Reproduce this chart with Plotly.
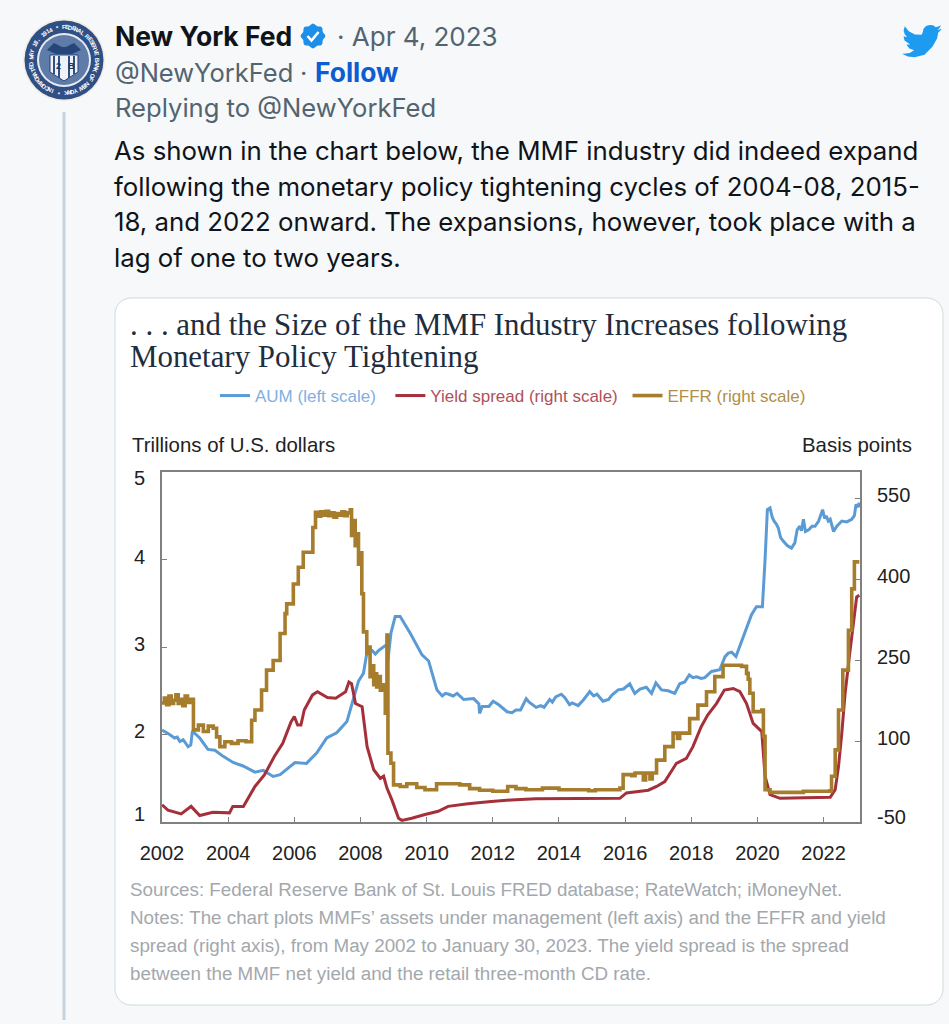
import math
import plotly.graph_objects as go

W, H = 949, 1024

# chart data
aum_years = [2002.0, 2002.1, 2002.23, 2002.38, 2002.46, 2002.54, 2002.64, 2002.79, 2002.87, 2002.92, 2003.03, 2003.14, 2003.39, 2003.6, 2003.85,
             2004.15, 2004.45, 2004.81, 2005.06, 2005.36, 2005.57, 2005.82, 2006.02, 2006.37, 2006.68, 2006.98, 2007.28,
             2007.59, 2007.74, 2007.94, 2008.09, 2008.21, 2008.35, 2008.45, 2008.55, 2008.8, 2008.83, 2008.92, 2009.05, 2009.2, 2009.5, 2009.86,
             2010.06, 2010.31, 2010.47, 2010.57, 2010.67, 2010.8, 2010.92, 2011.12, 2011.42, 2011.58, 2011.6, 2011.68, 2011.88, 2012.01, 2012.18,
             2012.43, 2012.58, 2012.7, 2012.84, 2013.01, 2013.1, 2013.31, 2013.45, 2013.55, 2013.72, 2013.8, 2013.9, 2014.07, 2014.18, 2014.32,
             2014.4, 2014.58, 2014.75, 2014.93, 2015.05, 2015.15, 2015.33, 2015.5, 2015.6, 2015.79, 2015.95,
             2016.14, 2016.29, 2016.45, 2016.64, 2016.8, 2016.93, 2017.1, 2017.3, 2017.5, 2017.65, 2017.8, 2017.94, 2018.05, 2018.16, 2018.3, 2018.41, 2018.61,
             2018.86, 2019.02, 2019.12, 2019.22, 2019.35, 2019.62, 2019.82, 2019.97, 2020.15, 2020.23, 2020.3, 2020.38, 2020.45, 2020.5, 2020.58,
             2020.63, 2020.7, 2020.78, 2020.9, 2021.03, 2021.13, 2021.2, 2021.28, 2021.33, 2021.39, 2021.45, 2021.55, 2021.65, 2021.74, 2021.85,
             2021.97, 2022.03, 2022.08, 2022.14, 2022.2, 2022.3, 2022.4, 2022.55, 2022.7, 2022.85, 2022.93, 2022.98, 2023.05, 2023.08]
aum = [2.05, 2.03, 2.0, 1.96, 1.97, 1.92, 1.94, 1.86, 1.88, 2.04, 2.0, 1.96, 1.83, 1.82, 1.75,
       1.68, 1.64, 1.57, 1.59, 1.52, 1.54, 1.62, 1.68, 1.67, 1.79, 1.96, 2.02,
       2.15, 2.34, 2.61, 2.7, 2.97, 2.96, 2.92, 2.96, 3.03, 2.85, 3.16, 3.35, 3.35, 3.16, 2.91,
       2.84, 2.51, 2.44, 2.47, 2.46, 2.44, 2.47, 2.4, 2.41, 2.35, 2.24, 2.32, 2.32, 2.38, 2.34,
       2.26, 2.25, 2.28, 2.28, 2.41, 2.37, 2.31, 2.33, 2.31, 2.4, 2.37, 2.43, 2.46, 2.42, 2.34,
       2.36, 2.33, 2.4, 2.49, 2.44, 2.46, 2.38, 2.4, 2.45, 2.51, 2.52,
       2.58, 2.47, 2.52, 2.54, 2.47, 2.59, 2.51, 2.5, 2.47, 2.58, 2.6, 2.68, 2.65, 2.66, 2.64, 2.65, 2.72,
       2.74, 2.89, 2.93, 2.94, 2.89, 3.18, 3.37, 3.46, 3.46, 4.0, 4.57, 4.59, 4.48, 4.44, 4.4,
       4.36, 4.25, 4.21, 4.16, 4.13, 4.19, 4.34, 4.38, 4.33, 4.46, 4.32, 4.34, 4.38, 4.38, 4.44,
       4.57, 4.47, 4.5, 4.44, 4.46, 4.32, 4.38, 4.44, 4.43, 4.46, 4.5, 4.63, 4.6, 4.65]

spread_years = [2002.0, 2002.18, 2002.58, 2002.88, 2003.14, 2003.54, 2004.04, 2004.14, 2004.46, 2004.81, 2005.1, 2005.4,
                2005.65, 2005.9, 2006.0, 2006.1, 2006.2, 2006.3, 2006.55, 2006.7, 2007.0, 2007.25, 2007.55, 2007.65,
                2007.73, 2007.85, 2008.05, 2008.2, 2008.4, 2008.6, 2008.7, 2008.8, 2008.95, 2009.15, 2009.25, 2009.55,
                2009.95, 2010.35, 2010.65, 2011.25, 2011.95, 2012.55, 2013.3, 2013.82, 2015.84, 2016.04, 2016.7, 2016.95,
                2017.2, 2017.55, 2017.85, 2018.05, 2018.3, 2018.5, 2018.76, 2019.0, 2019.27, 2019.47, 2019.67, 2019.87,
                2020.13, 2020.23, 2020.38, 2020.68, 2022.2, 2022.35, 2022.45, 2022.55, 2022.65, 2022.8, 2022.9, 2023.0,
                2023.08]
spread = [-18, -28, -35, -21, -38, -32, -33, -21, -21, 16, 38, 72,
          96, 136, 146, 130, 130, 158, 186, 192, 181, 180, 192, 210,
          207, 170, 164, 90, 47, 31, 35, 13, -9, -43, -47, -43,
          -36, -30, -21, -16, -12, -9, -7, -7, -6, 4, 9, 16,
          25, 59, 68, 90, 127, 149, 170, 195, 198, 192, 170, 133,
          118, 35, 1, -6, -4, 10, 53, 115, 189, 269, 318, 368,
          371]

effr_years = [2002.0, 2002.07, 2002.14, 2002.21, 2002.28, 2002.35, 2002.42, 2002.49, 2002.56, 2002.63, 2002.7, 2002.77, 2002.84,
              2002.95, 2003.1, 2003.25, 2003.4, 2003.55, 2003.65, 2003.75, 2003.9, 2004.1, 2004.3, 2004.54, 2004.71, 2004.81, 2005.01,
              2005.16, 2005.36, 2005.57, 2005.72, 2005.77, 2005.97, 2006.12, 2006.27, 2006.56, 2006.64, 2006.72, 2006.8, 2006.88,
              2006.96, 2007.04, 2007.12, 2007.2, 2007.28, 2007.36, 2007.44, 2007.52, 2007.6, 2007.69, 2007.73, 2007.78, 2007.84,
              2007.89, 2007.94, 2008.0, 2008.04, 2008.09, 2008.19, 2008.24, 2008.29, 2008.35, 2008.4, 2008.45, 2008.49, 2008.55,
              2008.6, 2008.7, 2008.75, 2008.8, 2008.83, 2008.92, 2009.0, 2009.2, 2009.4, 2009.7, 2009.95, 2010.3, 2011.0, 2011.3,
              2011.6, 2012.0, 2012.45, 2012.7, 2013.0, 2013.5, 2014.0, 2014.9, 2015.1, 2015.84, 2015.94, 2016.2, 2016.3, 2016.55,
              2016.62, 2016.75, 2016.82, 2016.95, 2017.2, 2017.45, 2017.58, 2017.65, 2017.95, 2018.2, 2018.46, 2018.71, 2018.96,
              2019.52, 2019.67, 2019.72, 2019.77, 2019.87, 2020.13, 2020.18, 2020.23, 2020.38, 2021.39, 2022.19, 2022.24, 2022.35,
              2022.45, 2022.58, 2022.75, 2022.85, 2022.93, 2023.08]
effr = [171, 180, 168, 184, 170, 176, 186, 170, 178, 166, 184, 172, 178,
        121, 130, 118, 128, 124, 108, 90, 99, 96, 101, 99, 139, 158, 195,
        232, 250, 300, 337, 355, 392, 423, 451, 497, 525, 518, 526, 520,
        527, 519, 524, 516, 523, 520, 526, 519, 524, 530, 482, 510, 463,
        485, 429, 450, 374, 303, 263, 275, 220, 240, 205, 225, 201, 220,
        195, 205, 152, 297, 78, 59, 19, 16, 21, 14, 10, 21, 19, 12,
        9, 7, 16, 12, 10, 13, 10, 8, 10, 13, 38, 36, 41, 28,
        41, 30, 41, 65, 90, 115, 105, 115, 142, 167, 192, 220, 241,
        239, 226, 215, 189, 155, 158, 109, 10, 5, 7, 8, 35, 84,
        158, 232, 306, 383, 433, 433]

series_names = ["AUM (left scale)", "Yield spread (right scale)", "EFFR (right scale)"]
series_colors = ["#5b9bd5", "#a5303a", "#a67c2d"]
legend_text_colors = ["#7fb0e0", "#b0505a", "#b08f48"]
legend_gaps = ["\u00a0\u00a0", "\u00a0", ""]
year_ticks = list(range(2002, 2023, 2))
left_ticks = [1, 2, 3, 4, 5]
right_ticks = [-50, 100, 250, 400, 550]
left_label_y = [814, 731, 644, 557, 478]
right_label_y = [817, 738, 657, 576, 495]

tweet_lines = [
    "As shown in the chart below, the MMF industry did indeed expand",
    "following the monetary policy tightening cycles of 2004-08, 2015-",
    "18, and 2022 onward. The expansions, however, took place with a",
    "lag of one to two years.",
]
tweet_line_y = [150, 186, 221, 257]
title_lines = [". . . and the Size of the MMF Industry Increases following", "Monetary Policy Tightening"]
title_line_y = [324, 356]
note_lines = [
    "Sources: Federal Reserve Bank of St. Louis FRED database; RateWatch; iMoneyNet.",
    "Notes: The chart plots MMFs\u2019 assets under management (left axis) and the EFFR and yield",
    "spread (right axis), from May 2002 to January 30, 2023. The yield spread is the spread",
    "between the MMF net yield and the retail three-month CD rate.",
]
note_line_y = [889, 917, 945, 973]
seal_text = "FEDERAL RESERVE BANK OF NEW YORK * INCORPORATED MAY 18, 1914 * "
bird_outline = [(23.95, 4.57), (21.13, 5.35), (22.5, 4.2), (23.29, 2.62), (21.8, 3.3), (20.16, 3.81), (18.6, 2.6), (16.6, 2.35),
                (14.4, 3.0), (12.9, 4.6), (12.5, 6.4), (11.78, 8.29), (7.7, 8.1), (4.07, 6.13), (1.64, 3.16), (0.97, 5.64),
                (1.6, 7.9), (3.16, 9.73), (0.93, 9.12), (1.5, 11.7), (4.88, 14.0), (2.67, 14.09), (4.4, 16.5), (7.27, 17.5),
                (4.6, 19.1), (1.17, 19.6), (0.0, 19.54), (3.5, 21.2), (7.56, 21.75), (13.5, 20.2), (18.3, 15.3), (21.0, 10.5),
                (21.56, 7.76), (21.54, 7.13)]


def fx(x):
    return x / W


def fy(y):
    return 1 - y / H


def label(x, y, text, size, color, family="Inter", anchor="left", bold=False, angle=0):
    if bold:
        text = f"<b>{text}</b>"
    return dict(x=fx(x), y=fy(y), xref="paper", yref="paper", text=text, showarrow=False, xanchor=anchor, yanchor="middle",
                textangle=angle, font=dict(size=size, color=color, family=family), borderpad=0, borderwidth=0)


def circle(cx, cy, r, fill, line=None, width=0):
    return dict(type="circle", xref="paper", yref="paper", x0=fx(cx - r), x1=fx(cx + r), y0=fy(cy - r), y1=fy(cy + r),
                fillcolor=fill, line=dict(color=line or fill, width=width), layer="below")


def poly(points, fill=None, line=None, width=0, closed=True):
    path = "M " + " L ".join(f"{fx(x):.5f},{fy(y):.5f}" for x, y in points) + (" Z" if closed else "")
    return dict(type="path", xref="paper", yref="paper", path=path, fillcolor=fill or "rgba(0,0,0,0)",
                line=dict(color=line or "rgba(0,0,0,0)", width=width), layer="below")


def box(x0, y0, x1, y1, fill):
    return dict(type="rect", xref="paper", yref="paper", x0=fx(x0), x1=fx(x1), y0=fy(y1), y1=fy(y0),
                fillcolor=fill, line=dict(width=0), layer="below")


def round_rect(x0, y0, x1, y1, r):
    pts = []
    for cx, cy, start in [(x1 - r, y0 + r, -90), (x1 - r, y1 - r, 0), (x0 + r, y1 - r, 90), (x0 + r, y0 + r, 180)]:
        for i in range(9):
            a = math.radians(start + i * 90 / 8)
            pts.append((cx + r * math.cos(a), cy + r * math.sin(a)))
    return pts


def badge(cx, cy, r):
    pts = []
    for i in range(48):
        a = 2 * math.pi * i / 48
        rad = r + 0.9 * math.cos(8 * a)
        pts.append((cx + rad * math.cos(a), cy + rad * math.sin(a)))
    return pts


def legend_name(i):
    return f'<span style="color:{legend_text_colors[i]}">{series_names[i]}{legend_gaps[i]}</span>'


fig = go.Figure()
fig.add_trace(go.Scatter(x=aum_years, y=aum, name=legend_name(0), mode="lines", yaxis="y",
                         line=dict(color=series_colors[0], width=3)))
fig.add_trace(go.Scatter(x=spread_years, y=spread, name=legend_name(1), mode="lines", yaxis="y2",
                         line=dict(color=series_colors[1], width=3)))
fig.add_trace(go.Scatter(x=effr_years, y=effr, name=legend_name(2), mode="lines", yaxis="y2",
                         line=dict(color=series_colors[2], width=3.6, shape="hv")))

shapes = [
    poly(round_rect(115, 298, 943, 1005, 16), fill="#ffffff", line="#cfd9de", width=1),
    dict(type="line", xref="paper", yref="paper", x0=fx(64), x1=fx(64), y0=fy(112), y1=fy(1020),
         line=dict(color="#c6d3de", width=3), layer="below"),
    # avatar seal
    circle(64, 60, 41, "#f1ebe2"),
    circle(64, 60, 39.5, "#2f4f85"),
    circle(64, 60, 27, "#e8ecf2"),
    circle(64, 60, 25, "#5f7ba8"),
    poly([(47, 50), (54, 43), (62, 47), (66, 47), (74, 43), (81, 50), (72, 54), (56, 54)], fill="#26457a"),
    poly([(50, 55), (78, 55), (78, 72), (64, 81), (50, 72)], fill="#eef1f6", line="#26457a", width=1),
    box(53, 56, 55, 74, "#2f4f85"), box(58, 56, 60, 78, "#2f4f85"),
    box(68, 56, 70, 78, "#2f4f85"), box(73, 56, 75, 74, "#2f4f85"),
    # verified badge
    poly(badge(313, 36, 11.5), fill="#1d8fe8"),
    poly([(307.5, 36), (311.5, 40.5), (318.5, 32)], line="#ffffff", width=2.6, closed=False),
    # twitter bird
    poly([(902 + x * 1.67, 21 + y * 1.67) for x, y in bird_outline], fill="#1d9bf0"),
]

annotations = [
    label(115, 36, "New York Fed", 26.5, "#0f1419", bold=True),
    label(337, 36, "\u00b7 Apr 4, 2023", 26, "#536471"),
    label(115, 72, "@NewYorkFed", 25.5, "#536471"),
    label(300, 72, "\u00b7", 25.5, "#536471"),
    label(315, 72, "Follow", 26.4, "#0f5bd0", bold=True),
    label(115, 107, "Replying to @NewYorkFed", 25.6, "#536471"),
    label(58, 66, "2", 9, "#1c3766", family="Liberation Sans", anchor="center", bold=True),
    label(71, 66, "B", 9, "#1c3766", family="Liberation Sans", anchor="center", bold=True),
    label(132, 445, "Trillions of U.S. dollars", 20.4, "#222222", family="Liberation Sans"),
    label(912, 445, "Basis points", 20.4, "#222222", family="Liberation Sans", anchor="right"),
]
for text, y in zip(tweet_lines, tweet_line_y):
    annotations.append(label(114, y, text, 25.8, "#0f1419"))
for text, y in zip(title_lines, title_line_y):
    annotations.append(label(130, y, text, 30.9, "#1f2d3d", family="Liberation Serif"))
for text, y in zip(note_lines, note_line_y):
    annotations.append(label(130, y, text, 18.8, "#a3a8ad", family="Liberation Sans"))
for tick, y in zip(left_ticks, left_label_y):
    annotations.append(label(139, y, str(tick), 20, "#222222", family="Liberation Sans", anchor="center"))
for tick, y in zip(right_ticks, right_label_y):
    annotations.append(label(877, y, str(tick), 20, "#222222", family="Liberation Sans"))
for i, ch in enumerate(seal_text):
    a = 2 * math.pi * i / len(seal_text)
    annotations.append(label(64 + 33 * math.sin(a), 60 - 33 * math.cos(a), ch, 6, "#ffffff", family="Liberation Sans",
                             anchor="center", bold=True, angle=math.degrees(a)))

fig.update_layout(
    width=W, height=H, margin=dict(l=0, r=0, t=0, b=0, autoexpand=False),
    paper_bgcolor="#f6f8f9", plot_bgcolor="#ffffff",
    font=dict(family="Liberation Sans", color="#222222"),
    shapes=shapes, annotations=annotations,
    legend=dict(orientation="h", x=fx(215), y=fy(396), xanchor="left", yanchor="middle",
                font=dict(size=17), bgcolor="rgba(0,0,0,0)"),
    xaxis=dict(domain=[fx(162), fx(860)], range=[2002, 2023.1], tickmode="array", tickvals=year_ticks,
               ticktext=[str(v) for v in year_ticks], ticks="inside", ticklen=5, tickcolor="#808080",
               showline=True, linecolor="#808080", linewidth=1.5, mirror=True, showgrid=False, zeroline=False,
               tickfont=dict(size=20), ticklabelstandoff=12),
    yaxis=dict(domain=[fy(822), fy(472)], range=[1, 5], tickmode="array", tickvals=left_ticks, showticklabels=False,
               ticks="inside", ticklen=5, tickcolor="#808080", showline=True, linecolor="#808080", linewidth=1.5,
               showgrid=False, zeroline=False),
    yaxis2=dict(overlaying="y", side="right", anchor="x", range=[-50, 600], tickmode="array", tickvals=right_ticks,
                showticklabels=False, ticks="inside", ticklen=5, tickcolor="#808080", showline=True, linecolor="#808080",
                linewidth=1.5, showgrid=False, zeroline=False),
)

fig.write_html("out.html", config=dict(displayModeBar=False),
               post_script="document.body.style.margin='0';document.body.style.background='#f6f8f9';")
